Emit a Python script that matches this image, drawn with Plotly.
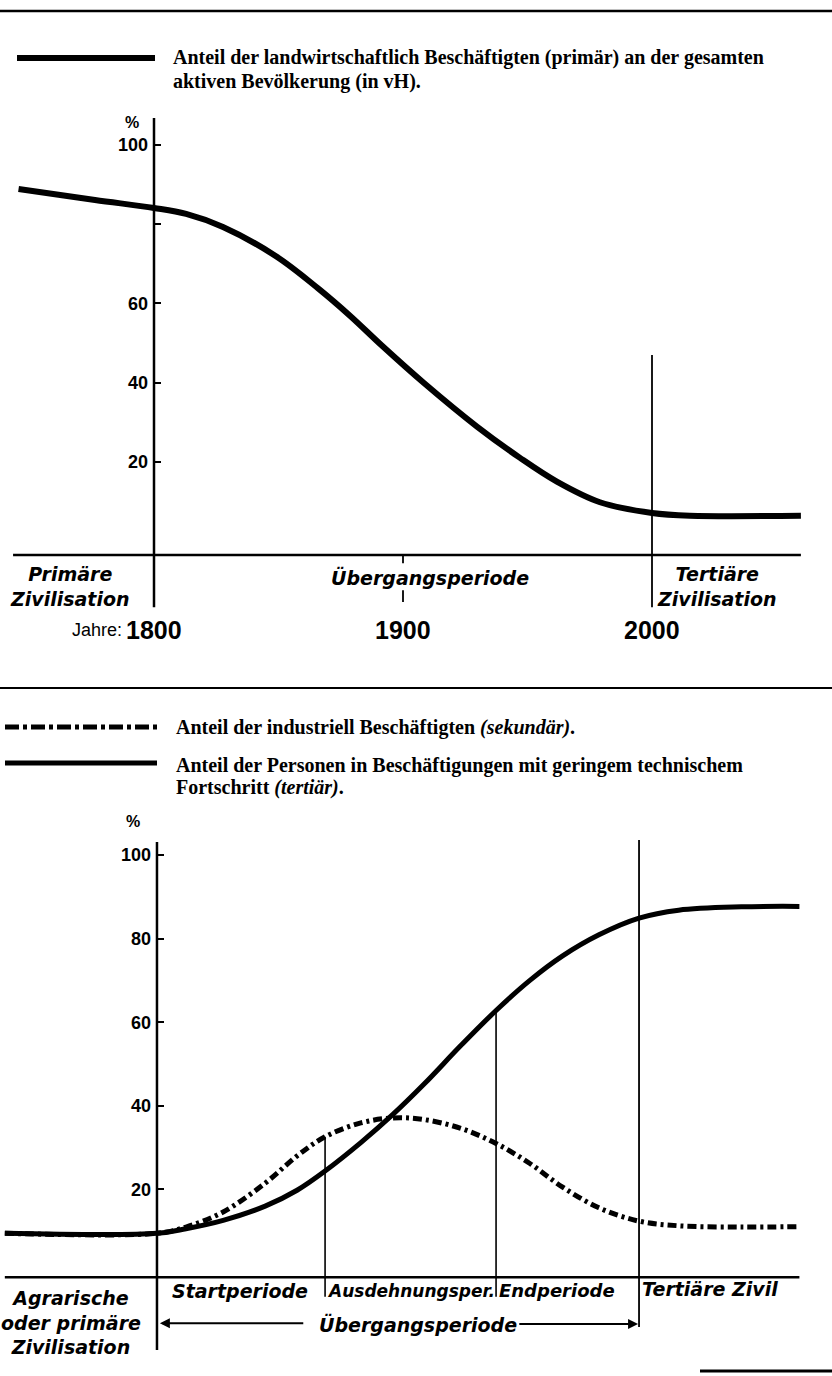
import plotly.graph_objects as go

W, H = 832, 1376

# ---------------- Data: upper diagram (primary sector) ----------------
years_primary = [1745.6, 1776.3, 1800, 1812.9, 1827.7, 1849.0, 1865.9, 1878.7, 1891.6,
                 1908.4, 1929.7, 1947.0, 1961.8, 1979.1, 2000, 2015.3, 2059.8]
share_primary = [88.9, 86.1, 84.1, 82.6, 79.3, 71.9, 63.8, 56.9, 49.3,
                 39.9, 28.9, 21.0, 15.0, 9.8, 7.1, 6.4, 6.4]
year_ticks = [1800, 1900, 2000]
year_labels = ["1800", "1900", "2000"]
pct_ticks_top = [20, 40, 60, 80, 100]
pct_labels_top = ["20", "40", "60", "", "100"]

# ---------------- Data: lower diagram (secondary / tertiary) ----------------
phase_t = [-31.5, 0, 6, 13.7, 22.4, 29, 34.8, 42.2, 48.9, 55.3, 62.9, 70.2,
           77.2, 83.9, 91.5, 99.8, 108, 121, 133]
share_secondary = [9.5, 9.5, 11.0, 14.6, 21.5, 28.0, 32.6, 35.9, 37.1, 36.7, 34.6, 31.0,
                   26.2, 20.6, 15.6, 12.4, 11.3, 11.0, 11.1]
share_tertiary = [9.5, 9.5, 10.6, 12.6, 16.0, 19.8, 24.4, 31.2, 38.0, 45.2, 54.4, 62.8,
                  70.0, 75.8, 80.9, 84.9, 86.8, 87.6, 87.7]
phase_bounds = [0, 34.8, 70.2, 99.8]
phase_names = ["Startperiode", "Ausdehnungsper.", "Endperiode"]
phase_label_t = [17.2, 52.6, 82.8]
phase_label_size = [19, 17, 18]
pct_ticks_bottom = [20, 40, 60, 80, 100]
pct_labels_bottom = ["20", "40", "60", "80", "100"]


def xp(px):
    return px / W


def yp(py):
    return 1 - py / H


LETTER = dict(family="DejaVu Sans", size=19, color="black", style="italic", weight="bold")
TICKF = dict(family="Liberation Sans", size=18, color="black", weight="bold")
YEARF = dict(family="Liberation Sans", size=25, color="black", weight="bold")
LEGF = dict(family="Liberation Serif", size=20, color="black", weight="bold")

fig = go.Figure()

# upper curve
fig.add_trace(go.Scatter(x=years_primary, y=share_primary, mode="lines",
                         line=dict(color="black", width=6, shape="spline", smoothing=1.0),
                         xaxis="x", yaxis="y", hoverinfo="skip"))
# lower curves
fig.add_trace(go.Scatter(x=phase_t, y=share_secondary, mode="lines",
                         line=dict(color="black", width=5, shape="spline", smoothing=1.0,
                                   dash="9px,4px,3px,4px"),
                         xaxis="x2", yaxis="y2", hoverinfo="skip"))
fig.add_trace(go.Scatter(x=phase_t, y=share_tertiary, mode="lines",
                         line=dict(color="black", width=5, shape="spline", smoothing=1.0),
                         xaxis="x2", yaxis="y2", hoverinfo="skip"))

shapes = []


def seg(xref, yref, x0, y0, x1, y1, w=2):
    shapes.append(dict(type="line", xref=xref, yref=yref, x0=x0, y0=y0, x1=x1, y1=y1,
                       line=dict(color="black", width=w)))


# page rules
seg("paper", "paper", 0, yp(11), 1, yp(11), 2.5)
seg("paper", "paper", 0, yp(688), 1, yp(688), 2)
seg("paper", "paper", xp(700), yp(1371), 1, yp(1371), 3)

# upper diagram structure
seg("x", "y", 1743.4, -3.5, 2059.8, -3.5, 2.5)          # base line
seg("x", "y", 1800, 106.8, 1800, -16.7, 2.5)            # vertical axis at 1800
seg("x", "y", 2000, 47, 2000, -16.7, 1.8)               # 2000 boundary
seg("x", "y", 1900, -3.5, 1900, -5.6, 1.8)              # 1900 tick
seg("x", "y", 1900, -12.4, 1900, -15.4, 1.8)

# lower diagram structure
seg("x2", "y2", -31.5, -1, 133, -1, 2.5)                # base line
seg("x2", "y2", phase_bounds[0], 103.1, phase_bounds[0], -18.4, 2.5)
i1 = phase_t.index(phase_bounds[1])
i2 = phase_t.index(phase_bounds[2])
seg("x2", "y2", phase_bounds[1], share_secondary[i1], phase_bounds[1], -5.7, 1.6)
seg("x2", "y2", phase_bounds[2], share_tertiary[i2], phase_bounds[2], -5.7, 1.6)
seg("x2", "y2", phase_bounds[3], 103.6, phase_bounds[3], -12.9, 1.8)

# legend samples
seg("paper", "paper", xp(17), yp(58), xp(155), yp(58), 6)
shapes.append(dict(type="line", xref="paper", yref="paper", x0=xp(5), y0=yp(727),
                   x1=xp(157), y1=yp(727),
                   line=dict(color="black", width=5, dash="14px,4px,4px,4px")))
seg("paper", "paper", xp(5), yp(763), xp(157), yp(763), 5)

ann = []


def txt(xref, yref, x, y, text, font, xanchor="center", yanchor="middle", align="center"):
    ann.append(dict(xref=xref, yref=yref, x=x, y=y, text=text, font=font, showarrow=False,
                    xanchor=xanchor, yanchor=yanchor, align=align))


# legends
txt("paper", "paper", xp(171), yp(58),
    "Anteil der landwirtschaftlich Beschäftigten (primär) an der gesamten",
    LEGF, xanchor="left", align="left")
txt("paper", "paper", xp(171), yp(81), "aktiven Bevölkerung (in vH).",
    LEGF, xanchor="left", align="left")
txt("paper", "paper", xp(174), yp(727),
    "Anteil der industriell Beschäftigten <i>(sekundär)</i>.", LEGF, xanchor="left", align="left")
txt("paper", "paper", xp(174), yp(765),
    "Anteil der Personen in Beschäftigungen mit geringem technischem",
    LEGF, xanchor="left", align="left")
txt("paper", "paper", xp(174), yp(787), "Fortschritt <i>(tertiär)</i>.",
    LEGF, xanchor="left", align="left")

# upper labels
txt("x", "y", 1791.2, 105.6, "%", dict(TICKF, size=16))
txt("x", "y", 1766.3, -11.5, "Primäre<br>Zivilisation", LETTER)
txt("x", "y", 1910.8, -9.1, "Übergangsperiode", LETTER)
txt("x", "y", 2026.1, -11.5, "Tertiäre<br>Zivilisation", LETTER)
for yv, lab in zip(year_ticks, year_labels):
    txt("x", "y", yv, -22.5, lab, YEARF)
txt("x", "y", 1788.0, -22.5, "Jahre:", dict(family="Liberation Sans", size=18, color="black"),
    xanchor="right")

# lower labels
txt("x2", "y2", -5, 108.1, "%", dict(TICKF, size=16))
txt("x2", "y2", -17.8, -11.8, "Agrarische<br>oder primäre<br>Zivilisation", LETTER)
for name, cx, fs in zip(phase_names, phase_label_t, phase_label_size):
    txt("x2", "y2", cx, -4.3, name, dict(LETTER, size=fs))
txt("x2", "y2", 114.5, -3.8, "Tertiäre Zivil", LETTER)
txt("x2", "y2", 54.0, -12.4, "Übergangsperiode", LETTER)
# arrows of the transition period
ann.append(dict(xref="x2", yref="y2", axref="x2", ayref="y2", x=0.6, y=-12.0, ax=30.6, ay=-12.0,
                text="", showarrow=True, arrowhead=2, arrowsize=1, arrowwidth=2,
                arrowcolor="black", standoff=0, startstandoff=0))
ann.append(dict(xref="x2", yref="y2", axref="x2", ayref="y2", x=99.6, y=-12.2, ax=74.7, ay=-12.2,
                text="", showarrow=True, arrowhead=2, arrowsize=1, arrowwidth=2,
                arrowcolor="black", standoff=0, startstandoff=0))

fig.update_layout(
    width=W, height=H, margin=dict(l=0, r=0, t=0, b=0),
    paper_bgcolor="white", plot_bgcolor="white", showlegend=False,
    shapes=shapes, annotations=ann,
    xaxis=dict(domain=[0, 1], range=[1738.15, 2072.29], visible=False, anchor="y"),
    yaxis=dict(domain=[0.5, 1], range=[-37.1, 136.6], anchor="free", position=154 / W,
               tickmode="array", tickvals=pct_ticks_top, ticktext=pct_labels_top,
               ticks="inside", ticklen=6, tickwidth=2, tickcolor="black",
               showgrid=False, zeroline=False, showline=False, tickfont=TICKF,
               ticklabelstandoff=6),
    xaxis2=dict(domain=[0, 1], range=[-32.5, 139.75], visible=False, anchor="y2"),
    yaxis2=dict(domain=[0, 0.5], range=[-24.64, 139.95], anchor="free", position=157 / W,
                tickmode="array", tickvals=pct_ticks_bottom, ticktext=pct_labels_bottom,
                ticks="inside", ticklen=6, tickwidth=2, tickcolor="black",
                showgrid=False, zeroline=False, showline=False, tickfont=TICKF,
                ticklabelstandoff=6),
)

fig.write_html("out.html", config={"displayModeBar": False},
               post_script="document.body.style.margin='0';")
